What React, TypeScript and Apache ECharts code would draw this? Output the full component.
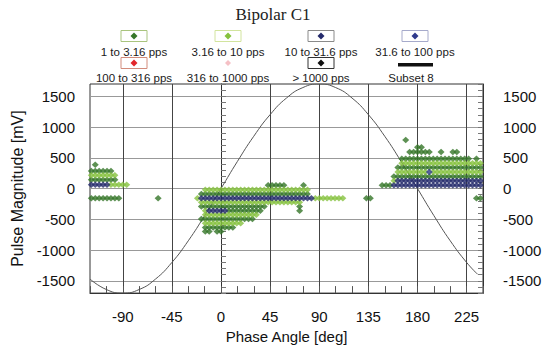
import React, { useEffect, useRef } from 'react';
import * as echarts from 'echarts';

type Run = [number, number, number]; // [magnitude mV, phase from deg, phase to deg]

// phase bin width of the PRPD pattern (deg)
const PHASE_STEP = 3.6;

// ---- data (runs of occupied phase bins per magnitude row) ----
const rate1to3Runs: Run[] = [
  // left cluster
  [385, -116, -116], [285, -120, -100], [145, -120, -96], [-156, -120, -93], [-156, -58, -57],
  // middle cluster
  [55, 43, 58], [55, 75, 75], [-88, -19, 80], [-292, -17, 40], [-292, 72, 72],
  [-360, 7, 36], [-360, 72, 72], [-496, -19, 29], [-632, -13, 10], [-700, -14, -11], [-700, -4, 0],
  [-156, 133, 137],
  // right cluster
  [790, 168, 168], [672, 179, 185], [596, 173, 190], [596, 202, 202], [596, 212, 216],
  [485, 164, 228], [485, 234, 234], [341, 162, 239], [197, 159, 239], [53, 146, 155],
  [-156, 233, 238],
];
const rate3to10Runs: Run[] = [
  [215, -120, -98], [60, -101, -86],
  [-20, -13, 79], [-156, -22, -22], [-156, 86, 112], [-224, -19, 69], [-224, 72, 72],
  [-360, -14, -14], [-428, -16, 33], [-564, -15, 18],
  [413, 164, 237], [269, 161, 187], [269, 194, 239], [125, 159, 159],
];
const rate10to31Runs: Run[] = [
  [60, -120, -104],
  [-156, -19, 83], [-360, -11, 4],
  [125, 162, 239], [53, 159, 239],
];
const rate31to100Runs: Run[] = [[269, 191, 191]];
const rate100to316Runs: Run[] = [];
const rate316to1000Runs: Run[] = [];
const rateOver1000Runs: Run[] = [];

// reference voltage
const refPhase = [-120, -105, -90, -75, -60, -45, -30, -15, 0, 15, 30, 45, 60, 75, 90, 105, 120, 135, 150, 165, 180, 195, 210, 225, 235];
const refMagnitude = [-1472, -1642, -1700, -1642, -1472, -1202, -850, -440, 0, 440, 850, 1202, 1472, 1642, 1700, 1642, 1472, 1202, 850, 440, 0, -440, -850, -1202, -1393];

const legendNames = ['1 to 3.16 pps', '3.16 to 10 pps', '10 to 31.6 pps', '31.6 to 100 pps', '100 to 316 pps', '316 to 1000 pps', '> 1000 pps', 'Subset 8'];

// ---- styles ----
const seriesColors = ['#357628', '#86c23e', '#242a6c', '#2f3a8c', '#e2262b', '#f5c0c5', '#111111', '#111111'];
const boxColors = ['#a9c47e', '#d2e49e', '#8a8a8a', '#a6aacb', '#d28c7c', '', '#333333', ''];
const FONT = 'Liberation Sans, Arial, sans-serif';

function expandRuns(runs: Run[]): number[][] {
  const pts: number[][] = [];
  for (const [mv, from, to] of runs) {
    const k0 = Math.round(from / PHASE_STEP);
    const k1 = Math.round(to / PHASE_STEP);
    for (let k = k0; k <= k1; k++) pts.push([+(k * PHASE_STEP).toFixed(1), mv]);
  }
  return pts;
}

export default function App() {
  const ref = useRef<HTMLDivElement>(null);
  useEffect(() => {
    if (!ref.current) return;
    const chart = echarts.init(ref.current, undefined, { renderer: 'svg' });

    const legendCols = [134, 228, 321, 415];
    const legendRows = [{ box: 36, text: 52 }, { box: 63, text: 78 }];
    const graphics: any[] = [];
    legendNames.forEach((name, i) => {
      const cx = legendCols[i % 4];
      const r = legendRows[Math.floor(i / 4)];
      if (boxColors[i]) {
        graphics.push({ type: 'rect', shape: { x: cx - 13, y: r.box - 5.5, width: 26, height: 11 }, style: { fill: '#fff', stroke: boxColors[i], lineWidth: 1 } });
      }
      if (i === 7) {
        graphics.push({ type: 'rect', shape: { x: cx - 17, y: r.box, width: 35, height: 3.5 }, style: { fill: seriesColors[i] } });
      } else {
        const s = i === 5 ? 3 : 3.5;
        graphics.push({ type: 'polygon', shape: { points: [[cx, r.box - s], [cx + s, r.box], [cx, r.box + s], [cx - s, r.box]] }, style: { fill: seriesColors[i] } });
      }
      graphics.push({ type: 'text', x: i === 7 ? cx - 4 : cx, y: r.text, style: { text: name, fill: '#1a1a1a', fontSize: 11.5, fontFamily: FONT, align: 'center', verticalAlign: 'middle' } });
    });

    const runSets = [rate1to3Runs, rate3to10Runs, rate10to31Runs, rate31to100Runs, rate100to316Runs, rate316to1000Runs, rateOver1000Runs];

    const yCommon = {
      type: 'value', min: -1700, max: 1700, interval: 100,
      axisLine: { show: true, lineStyle: { color: '#333', width: 1 } },
      axisTick: { show: true, inside: true, length: 5, lineStyle: { color: '#777' } },
    };

    chart.setOption({
      animation: false,
      backgroundColor: '#ffffff',
      title: {
        text: 'Bipolar C1', left: 'center', top: 6, padding: [0, 0, 0, 6],
        textStyle: { fontFamily: 'Liberation Serif, Times New Roman, serif', fontSize: 17, fontWeight: 'normal', color: '#222' },
      },
      grid: { left: 90, right: 63, top: 84, bottom: 53, show: true, borderColor: '#333', borderWidth: 1 },
      xAxis: {
        type: 'value', min: -120, max: 240, interval: 15,
        axisLine: { show: true, onZero: false, lineStyle: { color: '#333', width: 1 } },
        axisTick: { show: true, inside: true, length: 7, lineStyle: { color: '#555' } },
        axisLabel: { formatter: (v: number) => (v % 45 === 0 ? String(v) : ''), fontSize: 15, fontFamily: FONT, color: '#111', margin: 16 },
        splitLine: { show: true, lineStyle: { color: ['transparent', 'transparent', '#444'], width: 1 } },
        name: 'Phase Angle [deg]', nameLocation: 'middle', nameGap: 35,
        nameTextStyle: { fontSize: 15, fontFamily: FONT, color: '#111' },
      },
      yAxis: [
        {
          ...yCommon, position: 'left',
          axisLabel: { formatter: (v: number) => (v % 500 === 0 ? String(v) : ''), fontSize: 15, fontFamily: FONT, color: '#111', margin: 15 },
          splitLine: { show: true, lineStyle: { color: ['transparent', 'transparent', '#999', 'transparent', 'transparent'], width: 1 } },
          name: 'Pulse Magnitude [mV]', nameLocation: 'middle', nameGap: 57,
          nameTextStyle: { fontSize: 16, fontFamily: FONT, color: '#111' },
        },
        {
          ...yCommon, position: 'right',
          axisLabel: { formatter: (v: number) => (v % 500 === 0 ? String(v) : ''), fontSize: 15, fontFamily: FONT, color: '#111', margin: 20 },
          splitLine: { show: false },
        },
      ],
      graphic: graphics,
      series: [
        {
          name: 'Reference voltage', type: 'line', smooth: true, symbol: 'none',
          data: refPhase.map((p, i) => [p, refMagnitude[i]]),
          lineStyle: { color: '#555', width: 1 }, z: 1,
        },
        ...runSets.map((runs, i) => ({
          name: legendNames[i], type: 'scatter', symbol: 'diamond', symbolSize: [7, 6.5],
          data: expandRuns(runs), itemStyle: { color: seriesColors[i] }, z: 3,
        })),
      ],
    });
    return () => chart.dispose();
  }, []);
  return <div ref={ref} style={{ position: 'fixed', left: 0, top: 0, width: 546, height: 349 }} />;
}
